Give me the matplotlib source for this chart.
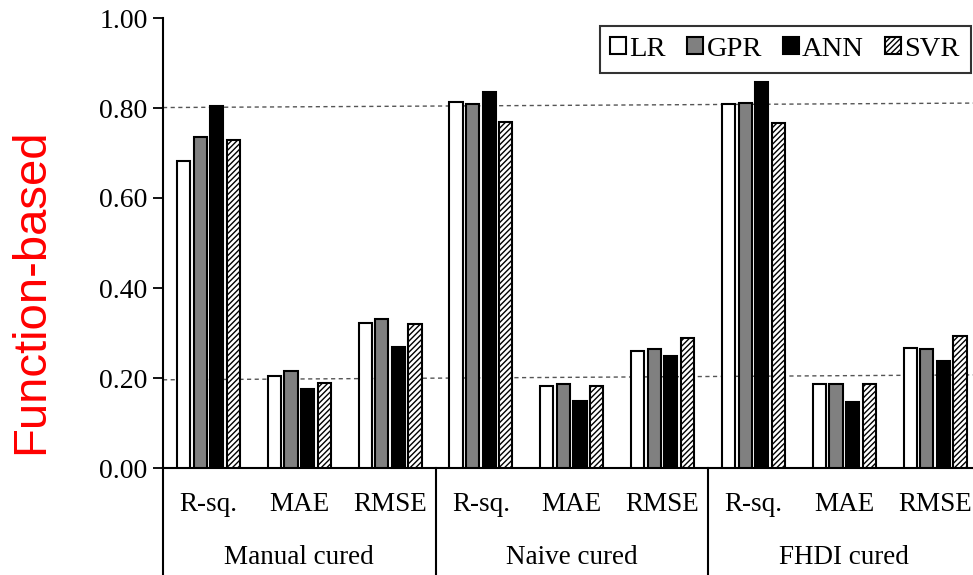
import numpy as np
import matplotlib
matplotlib.use("Agg")
import matplotlib.pyplot as plt
from matplotlib.patches import Patch
import matplotlib.transforms as mtransforms

# metric values per curing method, order: R-sq., MAE, RMSE
groups = ["Manual cured", "Naive cured", "FHDI cured"]
metrics = ["R-sq.", "MAE", "RMSE"]
models = ["LR", "GPR", "ANN", "SVR"]

lr = [0.683, 0.205, 0.323, 0.813, 0.182, 0.260, 0.808, 0.186, 0.267]
gpr = [0.735, 0.216, 0.332, 0.810, 0.186, 0.264, 0.811, 0.186, 0.264]
ann = [0.805, 0.175, 0.270, 0.836, 0.149, 0.250, 0.857, 0.147, 0.238]
svr = [0.729, 0.188, 0.321, 0.770, 0.182, 0.290, 0.767, 0.186, 0.293]

# guide lines (value at left end, value at right end)
upper_guide = (0.801, 0.811)
lower_guide = (0.196, 0.207)

plt.rcParams['font.family'] = ['Liberation Serif', 'DejaVu Serif']
plt.rcParams['hatch.linewidth'] = 1.0

fig = plt.figure(figsize=(9.73, 5.75), dpi=100)
ax = fig.add_axes([163 / 973, 107 / 575, 817.5 / 973, 450 / 575])

n_cat = len(groups) * len(metrics)
x = np.arange(n_cat) + 0.5
slot = 0.183
width = 0.145
styles = [
    dict(facecolor='white', hatch=None),
    dict(facecolor='#808080', hatch=None),
    dict(facecolor='black', hatch=None),
    dict(facecolor='white', hatch='//////'),
]
series = [lr, gpr, ann, svr]
handles = []
for i, (vals, st) in enumerate(zip(series, styles)):
    ax.bar(x + (i - 1.5) * slot, vals, width, color=st['facecolor'],
           edgecolor='black', linewidth=1.5, hatch=st['hatch'], zorder=3)
    handles.append(Patch(facecolor=st['facecolor'], edgecolor='black',
                         linewidth=1.5, hatch=st['hatch'], label=models[i]))

for y0, y1 in (upper_guide, lower_guide):
    ax.plot([0, n_cat], [y0, y1], linestyle=(0, (3, 2.5)), color='#555555',
            linewidth=1.0, zorder=1)

ax.set_xlim(0, n_cat)
ax.set_ylim(0, 1.0)
ax.set_yticks(np.arange(0, 1.01, 0.2))
ax.set_yticklabels([f"{v:.2f}" for v in np.arange(0, 1.01, 0.2)])
ax.set_xticks([])
ax.tick_params(axis='y', direction='out', length=7, width=1.3, labelsize=20, pad=4)
for s in ['top', 'right']:
    ax.spines[s].set_visible(False)
for s in ['left', 'bottom']:
    ax.spines[s].set_linewidth(1.5)

# category labels and group separators below the axis
trans = mtransforms.blended_transform_factory(ax.transData, ax.transAxes)
for k in range(n_cat):
    ax.text(x[k], -0.082, metrics[k % 3], transform=trans, ha='center',
            va='center', fontsize=19.5)
for g, name in enumerate(groups):
    ax.text(g * 3 + 1.5, -0.198, name, transform=trans, ha='center',
            va='center', fontsize=19.5)
for b in range(len(groups) + 1):
    ax.plot([b * 3, b * 3], [0, -0.235], transform=trans, color='black',
            linewidth=1.5, clip_on=False)

leg = ax.legend(handles=handles, loc='upper right', bbox_to_anchor=(0.988, 0.982),
                ncol=4, fontsize=20.5, frameon=True, fancybox=False,
                handlelength=0.55, handleheight=0.55, handletextpad=0.12,
                columnspacing=0.75, borderpad=0.38, borderaxespad=0)
leg.get_frame().set_edgecolor('black')
leg.get_frame().set_linewidth(1.5)

fig.text(31 / 973, 1 - 291 / 575, "Function-based", rotation=90, ha='center',
         va='center', color='red', fontsize=34, family='Liberation Sans')

fig.savefig("out.png", dpi=100)
